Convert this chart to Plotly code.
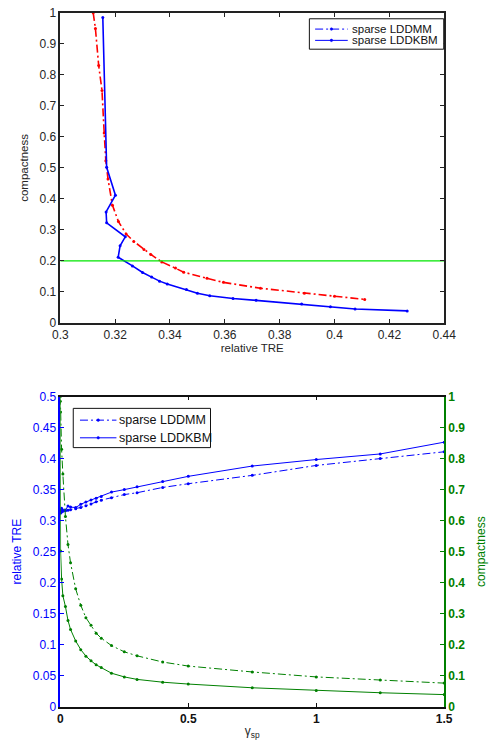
import plotly.graph_objects as go

# Regularisation weights gamma_sp used for the sweep
gamma_sp = [0, 0.001, 0.005, 0.01, 0.02, 0.03, 0.04, 0.06, 0.08, 0.1, 0.12,
            0.14, 0.16, 0.2, 0.25, 0.3, 0.4, 0.5, 0.75, 1.0, 1.25, 1.5]

# sparse LDDMM results
tre_lddmm = [0.3120, 0.3128, 0.3140, 0.3152, 0.3160, 0.3166, 0.3174, 0.3190,
             0.3212, 0.3240, 0.3268, 0.3305, 0.3330, 0.3370, 0.3420, 0.3450,
             0.3535, 0.3595, 0.3730, 0.3890, 0.4000, 0.4110]
comp_lddmm = [1.000, 0.950, 0.830, 0.750, 0.613, 0.523, 0.464, 0.380, 0.327,
              0.287, 0.263, 0.237, 0.221, 0.197, 0.177, 0.164, 0.144, 0.131,
              0.112, 0.096, 0.086, 0.076]

# sparse LDDKBM results
tre_lddkbm = [0.3155, 0.3169, 0.3201, 0.3167, 0.3169, 0.3237, 0.3218, 0.3211,
              0.3263, 0.3300, 0.3333, 0.3362, 0.3390, 0.3460, 0.3500, 0.3545,
              0.3630, 0.3714, 0.3880, 0.3985, 0.4075, 0.4265]
comp_lddkbm = [0.985, 0.502, 0.412, 0.358, 0.323, 0.278, 0.249, 0.212, 0.184,
               0.163, 0.148, 0.135, 0.126, 0.108, 0.096, 0.088, 0.079, 0.073,
               0.061, 0.052, 0.045, 0.039]

compactness_threshold = 0.2

method_names = ["sparse LDDMM", "sparse LDDKBM"]

# Tick labels
tre_ticks_top = [0.3, 0.32, 0.34, 0.36, 0.38, 0.4, 0.42, 0.44]
tre_ticktext_top = ["0.3", "0.32", "0.34", "0.36", "0.38", "0.4", "0.42", "0.44"]
comp_ticks = [0, 0.1, 0.2, 0.3, 0.4, 0.5, 0.6, 0.7, 0.8, 0.9, 1]
comp_ticktext = ["0", "0.1", "0.2", "0.3", "0.4", "0.5", "0.6", "0.7", "0.8", "0.9", "1"]
gamma_ticks = [0, 0.5, 1, 1.5]
gamma_ticktext = ["0", "0.5", "1", "1.5"]
tre_ticks_bot = [0, 0.05, 0.1, 0.15, 0.2, 0.25, 0.3, 0.35, 0.4, 0.45, 0.5]
tre_ticktext_bot = ["0", "0.05", "0.1", "0.15", "0.2", "0.25", "0.3", "0.35", "0.4", "0.45", "0.5"]

W, H = 497, 750
FONT = "Liberation Sans, Arial, sans-serif"
BLUE = "#0000ff"
RED = "#ff0000"
GREEN = "#008000"
LIME = "#00e600"
INK = "#262626"
DASHDOT = "8px,3px,2px,3px"
method_dash = [DASHDOT, "solid"]

# Plot-area pixel boxes
x0, x1 = 54.5, 454.5
top_y0, top_y1 = 6, 322
bot_y0, bot_y1 = 397, 713


def px(x):
    return x / W


def py(y):
    return (H - y) / H


def xd(a, b):
    return [px(a), px(b)]


def yd(top, bottom):
    return [py(bottom), py(top)]


fig = go.Figure()

# ---- upper panel: compactness vs relative TRE ----
fig.add_trace(go.Scatter(
    x=tre_lddmm, y=comp_lddmm, mode="lines+markers",
    line=dict(color=RED, width=1.6, dash=DASHDOT),
    marker=dict(size=3, color=RED),
    xaxis="x", yaxis="y", showlegend=False))
fig.add_trace(go.Scatter(
    x=tre_lddkbm, y=comp_lddkbm, mode="lines+markers",
    line=dict(color=BLUE, width=1.6),
    marker=dict(size=3, color=BLUE),
    xaxis="x", yaxis="y", showlegend=False))
fig.add_trace(go.Scatter(
    x=[tre_ticks_top[0], tre_ticks_top[-1]],
    y=[compactness_threshold, compactness_threshold], mode="lines",
    line=dict(color=LIME, width=1.2),
    xaxis="x", yaxis="y", showlegend=False))

# ---- lower panel: relative TRE and compactness vs gamma_sp ----
fig.add_trace(go.Scatter(
    x=gamma_sp, y=comp_lddmm, mode="lines+markers",
    line=dict(color=GREEN, width=1, dash=DASHDOT),
    marker=dict(size=3, color=GREEN),
    xaxis="x2", yaxis="y3", showlegend=False))
fig.add_trace(go.Scatter(
    x=gamma_sp, y=comp_lddkbm, mode="lines+markers",
    line=dict(color=GREEN, width=1),
    marker=dict(size=3, color=GREEN),
    xaxis="x2", yaxis="y3", showlegend=False))
fig.add_trace(go.Scatter(
    x=gamma_sp, y=tre_lddmm, mode="lines+markers",
    line=dict(color=BLUE, width=1, dash=DASHDOT),
    marker=dict(size=3, color=BLUE),
    xaxis="x2", yaxis="y2", showlegend=False))
fig.add_trace(go.Scatter(
    x=gamma_sp, y=tre_lddkbm, mode="lines+markers",
    line=dict(color=BLUE, width=1),
    marker=dict(size=3, color=BLUE),
    xaxis="x2", yaxis="y2", showlegend=False))


# ---- boxed legends (compact, MATLAB-like) ----
def boxed_legend(left, top, right, bottom, rows, key_x0, key_x1, text_x, size):
    shapes, notes = [], []
    shapes.append(dict(type="rect", xref="paper", yref="paper",
                       x0=px(left), x1=px(right), y0=py(bottom), y1=py(top),
                       line=dict(color="#111", width=1), fillcolor="white", layer="above"))
    for (name, dash, y) in rows:
        shapes.append(dict(type="line", xref="paper", yref="paper",
                           x0=px(key_x0), x1=px(key_x1), y0=py(y), y1=py(y),
                           line=dict(color=BLUE, width=1, dash=dash), layer="above"))
        xm = (key_x0 + key_x1) / 2
        shapes.append(dict(type="circle", xref="paper", yref="paper",
                           x0=px(xm - 1.3), x1=px(xm + 1.3), y0=py(y + 1.3), y1=py(y - 1.3),
                           line=dict(color=BLUE, width=0.5), fillcolor=BLUE, layer="above"))
        notes.append(dict(text=name, xref="paper", yref="paper", x=px(text_x), y=py(y),
                          xanchor="left", yanchor="middle", showarrow=False,
                          font=dict(family=FONT, size=size, color="#111")))
    return shapes, notes


s1, a1 = boxed_legend(314, 12, 454, 43,
                      [(method_names[0], method_dash[0], 22.5),
                       (method_names[1], method_dash[1], 34)],
                      320, 354, 356, 11.5)
s2, a2 = boxed_legend(68, 409, 211, 449,
                      [(method_names[0], method_dash[0], 421),
                       (method_names[1], method_dash[1], 439)],
                      75, 113, 114, 12.5)

tickfont = dict(family=FONT, size=12, color=INK)

fig.update_layout(
    width=W, height=H,
    margin=dict(l=0, r=0, t=0, b=0),
    paper_bgcolor="white", plot_bgcolor="white",
    font=dict(family=FONT, size=11, color=INK),
    showlegend=False,
    shapes=s1 + s2,
    annotations=a1 + a2,
    xaxis=dict(
        domain=xd(x0, x1), anchor="y", range=[0.3, 0.44],
        tickvals=tre_ticks_top, ticktext=tre_ticktext_top,
        ticks="inside", ticklen=4, tickcolor="#222", showline=True,
        linecolor="#222", linewidth=1.5, mirror="ticks", showgrid=False,
        zeroline=False, tickfont=tickfont,
        title=dict(text="relative TRE", font=dict(family=FONT, size=11.5, color=INK), standoff=2)),
    yaxis=dict(
        domain=yd(top_y0, top_y1), anchor="x", range=[0, 1],
        tickvals=comp_ticks, ticktext=comp_ticktext,
        ticks="inside", ticklen=4, tickcolor="#222", showline=True,
        linecolor="#222", linewidth=1.5, mirror="ticks", showgrid=False,
        zeroline=False, tickfont=tickfont,
        title=dict(text="compactness", font=dict(family=FONT, size=11.5, color=INK), standoff=8)),
    xaxis2=dict(
        domain=xd(x0, x1), anchor="y2", range=[0, 1.5],
        tickvals=gamma_ticks, ticktext=gamma_ticktext,
        ticks="inside", ticklen=4, tickcolor="#111", showline=True,
        linecolor="#111", linewidth=1.5, mirror="ticks", showgrid=False,
        zeroline=False,
        tickfont=dict(family=FONT, size=12, color="#111", weight="bold"),
        title=dict(text="γ<sub>sp</sub>", font=dict(family=FONT, size=12, color=INK), standoff=2)),
    yaxis2=dict(
        domain=yd(bot_y0, bot_y1), anchor="x2", range=[0, 0.5],
        tickvals=tre_ticks_bot, ticktext=tre_ticktext_bot,
        ticks="inside", ticklen=4, tickcolor=BLUE, showline=True,
        linecolor=BLUE, linewidth=1.5, showgrid=False, zeroline=False,
        tickfont=dict(family=FONT, size=12, color=BLUE),
        title=dict(text="relative TRE", font=dict(family=FONT, size=12, color=BLUE), standoff=9)),
    yaxis3=dict(
        overlaying="y2", side="right", anchor="x2", range=[0, 1],
        tickvals=comp_ticks, ticktext=comp_ticktext,
        ticks="inside", ticklen=4, tickcolor=GREEN, showline=True,
        linecolor=GREEN, linewidth=1.5, showgrid=False, zeroline=False,
        tickfont=dict(family=FONT, size=12, color=GREEN, weight="bold"),
        title=dict(text="compactness", font=dict(family=FONT, size=12, color=GREEN), standoff=12)),
)

fig.write_html("out.html")
